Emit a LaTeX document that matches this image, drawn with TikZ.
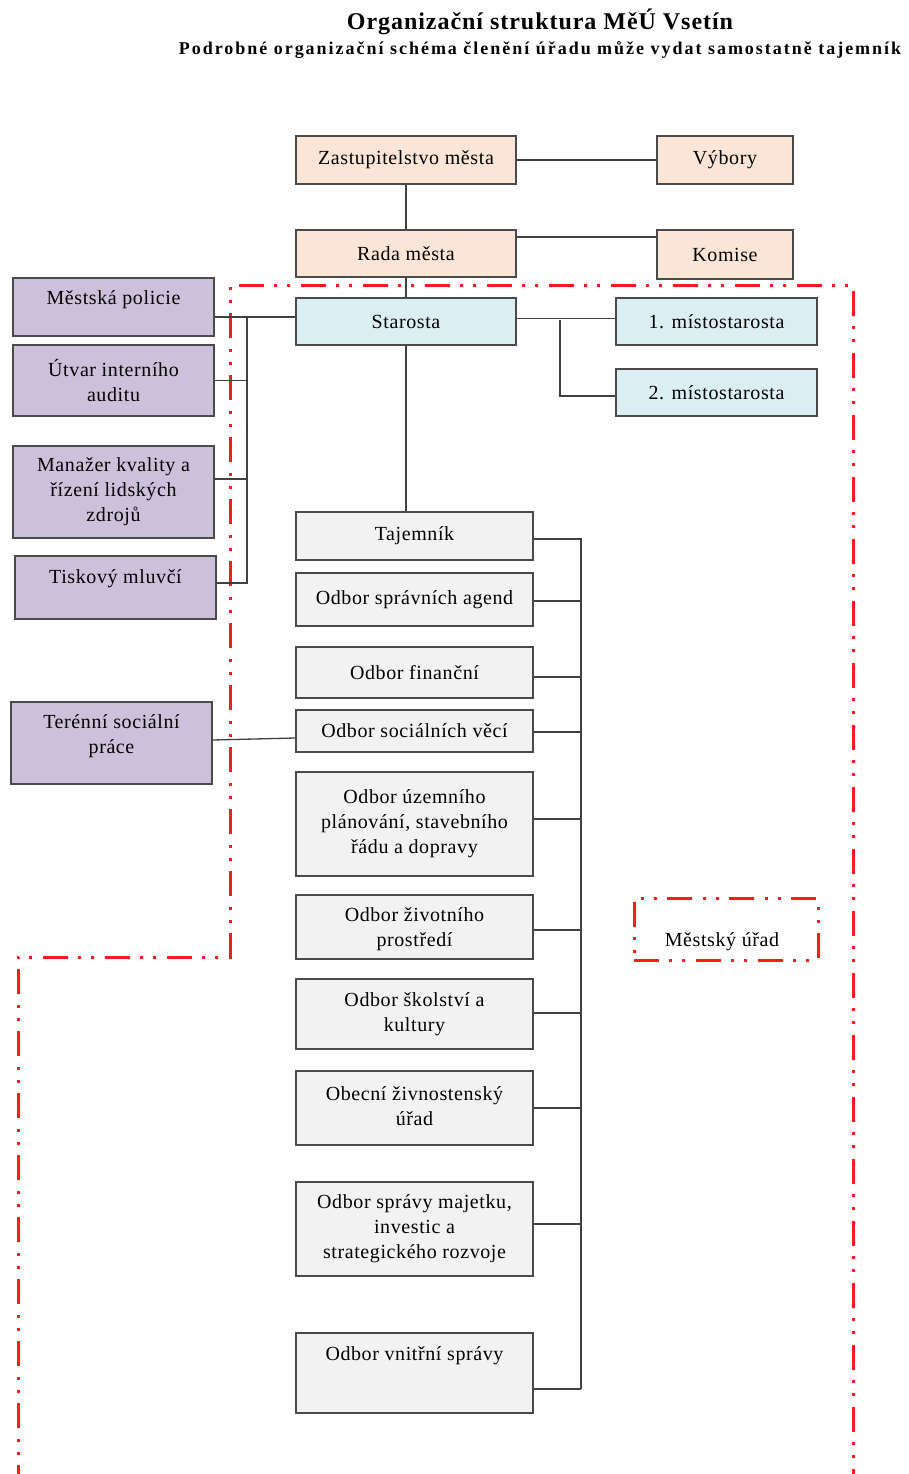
\documentclass[tikz,border=0pt]{standalone}
\usepackage{fontspec}
\setmainfont{Liberation Serif}
\definecolor{peach}{HTML}{FBE5D6}
\definecolor{lblue}{HTML}{DBEEF4}
\definecolor{lpurple}{HTML}{CCC0DA}
\definecolor{lgray}{HTML}{F2F2F2}
\definecolor{boxline}{HTML}{4A4A4A}
\definecolor{connline}{HTML}{404040}
\definecolor{zred}{HTML}{FF1A1A}
\newfontfamily\boxfamily[LetterSpace=3]{Liberation Serif}
\tikzset{
  orgbox/.style={draw=boxline, line width=1.3pt, inner sep=0pt, align=center,
    font=\boxfamily\fontsize{20}{25}\selectfont},
  peachbox/.style={orgbox, fill=peach},
  bluebox/.style={orgbox, fill=lblue},
  purplebox/.style={orgbox, fill=lpurple},
  graybox/.style={orgbox, fill=lgray},
  boxtext/.style={inner sep=0pt, align=center, font=\boxfamily\fontsize{20}{25}\selectfont},
  conn/.style={draw=connline, line width=1.3pt},
  zonedash/.style={draw=zred, line width=3pt,
    dash pattern=on 25pt off 10pt on 3pt off 10pt on 3pt off 11pt},
  zone/.style={zonedash}
}
\begin{document}
\begin{tikzpicture}[x=1pt,y=-1pt]
\useasboundingbox[fill=white] (0,0) rectangle (908,1474);

% titles
\node[font=\fontsize{24}{28}\selectfont\bfseries\addfontfeature{LetterSpace=4}] (title) at (540,22) {Organizační struktura MěÚ Vsetín};
\node[font=\fontsize{18}{20}\selectfont\bfseries\addfontfeature{LetterSpace=11}] (subtitle) at (540,50) {Podrobné organizační schéma členění úřadu může vydat samostatně tajemník};

% red zone
\draw[zone] (18,1490) -- (18,957) -- (230,957) -- (230,285) -- (853,285) -- (853,1490);
\node[zonedash, minimum width=184pt, minimum height=62pt, inner sep=0pt] (legend) at (726,929) {};
\node[boxtext] (legendtext) at (722,942) {Městský úřad};

% top
\node[peachbox, minimum width=220pt, minimum height=48pt] (zast) at (406,160) {Zastupitelstvo města};
\node[peachbox, minimum width=136pt, minimum height=48pt] (vybory) at (725,160) {Výbory};
\node[peachbox, minimum width=220pt, minimum height=47pt] (rada) at (406,253.5) {Rada města};
\node[peachbox, minimum width=136pt, minimum height=49pt] (komise) at (725,254.5) {Komise};
\node[bluebox, minimum width=220pt, minimum height=47pt] (starosta) at (406,321.5) {Starosta};
\node[bluebox, minimum width=201pt, minimum height=47pt] (mist1) at (716.5,321.5) {1. místostarosta};
\node[bluebox, minimum width=201pt, minimum height=47pt] (mist2) at (716.5,392.5) {2. místostarosta};

% left purple
\node[purplebox, minimum width=201pt, minimum height=58pt] (policie) at (113.5,307) {};
\node[boxtext] (policietext) at (113.5,300) {Městská policie};
\node[purplebox, minimum width=201pt, minimum height=71pt] (utvar) at (113.5,380.5) {Útvar interního\\auditu};
\node[purplebox, minimum width=201pt, minimum height=92pt] (manazer) at (113.5,492) {Manažer kvality a\\řízení lidských\\zdrojů};
\node[purplebox, minimum width=201pt, minimum height=63pt] (tiskovy) at (115.5,587.5) {};
\node[boxtext] (tiskovytext) at (115.5,579) {Tiskový mluvčí};
\node[purplebox, minimum width=201pt, minimum height=82pt] (terenni) at (111.5,743) {};
\node[boxtext] (terennitext) at (111.5,736.5) {Terénní sociální\\práce};

% gray departments
\node[graybox, minimum width=237pt, minimum height=48pt] (tajemnik) at (414.5,536) {Tajemník};
\node[graybox, minimum width=237pt, minimum height=53pt] (spravni) at (414.5,599.5) {Odbor správních agend};
\node[graybox, minimum width=237pt, minimum height=51pt] (financni) at (414.5,672.5) {Odbor finanční};
\node[graybox, minimum width=237pt, minimum height=42pt] (socialni) at (414.5,731) {Odbor sociálních věcí};
\node[graybox, minimum width=237pt, minimum height=104pt] (uzemni) at (414.5,824) {Odbor územního\\plánování, stavebního\\řádu a dopravy};
\node[graybox, minimum width=237pt, minimum height=64pt] (zivotni) at (414.5,927) {};
\node[boxtext] (zivotnitext) at (414.5,929.5) {Odbor životního\\prostředí};
\node[graybox, minimum width=237pt, minimum height=70pt] (skolstvi) at (414.5,1014) {Odbor školství a\\kultury};
\node[graybox, minimum width=237pt, minimum height=74pt] (obecni) at (414.5,1108) {};
\node[boxtext] (obecnitext) at (414.5,1106) {Obecní živnostenský\\úřad};
\node[graybox, minimum width=237pt, minimum height=94pt] (majetek) at (414.5,1229) {Odbor správy majetku,\\investic a\\strategického rozvoje};
\node[graybox, minimum width=237pt, minimum height=80pt] (vnitrni) at (414.5,1373) {};
\node[boxtext] (vnitrnitext) at (414.5,1356) {Odbor vnitřní správy};

% connectors top
\draw[conn] (zast.east) -- (vybory.west);
\draw[conn] (zast.south) -- (rada.north);
\draw[conn] ([yshift=16.5pt]rada.east) -- ([yshift=16.5pt]rada.east -| komise.west);
\draw[conn] (rada.south) -- (starosta.north);
\draw[conn] ([yshift=3pt]starosta.east) -- ([yshift=3pt]starosta.east -| mist1.west);
\coordinate (mj) at (560,320);
\draw[conn] (mj) |- ([yshift=-3.5pt]mist2.west);
\draw[conn] (starosta.south) -- (tajemnik.north -| starosta.south);

% left connectors
\coordinate (lbus) at (247,317);
\draw[conn] (starosta.west |- lbus) -- (policie.east |- lbus);
\draw[conn] (lbus) |- ([yshift=4.5pt]tiskovy.east);
\draw[conn] (utvar.east) -- (utvar.east -| lbus);
\draw[conn] ([yshift=13pt]manazer.east) -- ([yshift=13pt]manazer.east -| lbus);
\draw[conn] ([yshift=3pt]terenni.east) -- ([yshift=-7pt]socialni.west);

% right bus
\coordinate (rbus) at (581,539);
\draw[conn] (tajemnik.east |- rbus) -- (rbus) -- (581,1389);
\foreach \n/\s in {spravni/-1.5, financni/-4.5, socialni/-1, uzemni/5, zivotni/-3, skolstvi/1, obecni/0, majetek/5, vnitrni/-16} {
  \draw[conn] ([yshift=\s pt]\n.east) -- ([yshift=\s pt]\n.east -| rbus);
}
\end{tikzpicture}
\end{document}
